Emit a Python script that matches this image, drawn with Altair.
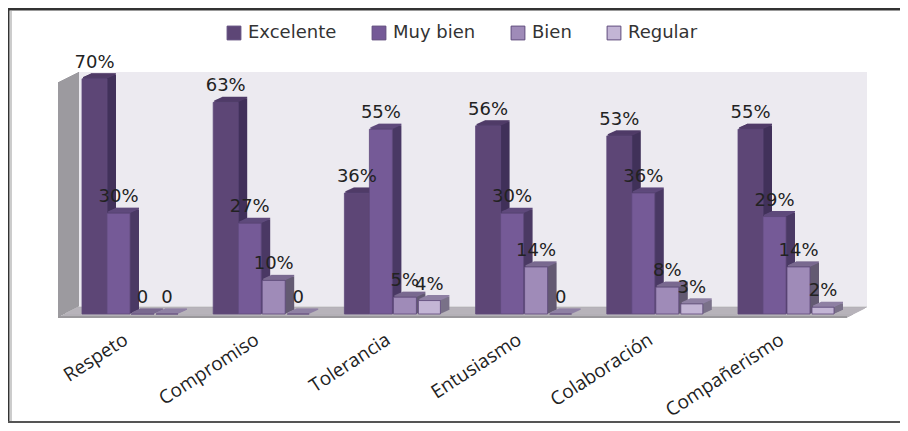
import altair as alt
import pandas as pd

categories = ["Respeto", "Compromiso", "Tolerancia", "Entusiasmo", "Colaboración", "Compañerismo"]
series = ["Excelente", "Muy bien", "Bien", "Regular"]
excelente = [70, 63, 36, 56, 53, 55]
muy_bien = [30, 27, 55, 30, 36, 29]
bien = [0, 10, 5, 14, 8, 14]
regular = [0, 0, 4, 0, 3, 2]
front_colors = ["#5D4676", "#755A97", "#9F8BB8", "#C3B5D5"]
top_colors = ["#503C68", "#5F4A7C", "#7A6A90", "#8F80A4"]
side_colors = ["#41315A", "#4A3964", "#635A72", "#7A7189"]

STEP = 131.2
edges = [(0, 25), (25, 48), (49, 72), (74, 96)]

rows = []
for si, (s, vals) in enumerate(zip(series, [excelente, muy_bien, bien, regular])):
    for ci, (c, v) in enumerate(zip(categories, vals)):
        rows.append({"cat": c, "serie": s, "v": v, "v2": v + 0.45, "zero": 0,
                     "u0": ci + edges[si][0] / STEP, "u1": ci + edges[si][1] / STEP,
                     "um": ci + (edges[si][0] + edges[si][1]) / 2 / STEP,
                     "lab": f"{v}%" if v else "0"})
df = pd.DataFrame(rows)
cats = pd.DataFrame({"cat": categories, "uc": [i + 44 / STEP for i in range(6)]})

W, H = 892, 306
x_scale = alt.Scale(domain=[-74 / STEP, (W - 74) / STEP], nice=False, zero=False)
y_scale = alt.Scale(domain=[0, 91.07], nice=False)
x0 = alt.X("u0:Q", scale=x_scale, title=None, axis=None)
x1 = alt.X2("u1:Q")
xm = alt.X("um:Q", scale=x_scale, title=None, axis=None)
y_top = alt.Y("v:Q", scale=y_scale, title=None, axis=None)

layers = []
one = df.head(1)

def band(color, xa, xb, ya, yb):
    layers.append(alt.Chart(one).mark_rect(color=color).encode(
        x=alt.value(xa), x2=alt.value(xb), y=alt.value(ya), y2=alt.value(yb)))

# frame
band("#333333", 0, W, 0, 2)
band("#999999", 0, W, 2, 3)
band("#333333", 0, 1.5, 0, 414)
band("#999999", 2.5, 3.5, 2, 413)
band("#555555", 0, W, 413, 415)

# back wall, side wall and floor, built as sheared slices
band("#ECEAF0", 71, 859, 64, 298)
for k in range(0, 21):
    band("#B4B1B7", 50 + k, 839 + k, 309 - k * 0.52, 310 - k * 0.52)
    band("#9C9A9F", 50 + k, 51 + k, 74 - k * 0.5, 309 - k * 0.52)
band("#9A989C", 50, 839, 308, 310)

# bars: side and top slices, then front, series from left to right
for s, fc, tc, sc in zip(series, front_colors, top_colors, side_colors):
    d = df[df.serie == s]
    for i in range(9, 0, -1):
        layers.append(alt.Chart(d).mark_rect(color=sc, xOffset=i, x2Offset=i, yOffset=-i * 0.45,
                                             y2Offset=-i * 0.45).encode(
            x=x0, x2=x1, y=y_top, y2="zero:Q"))
    for i in range(9, 0, -1):
        layers.append(alt.Chart(d).mark_rect(color=tc, xOffset=i, x2Offset=i, yOffset=-i * 0.45,
                                             y2Offset=-i * 0.45).encode(
            x=x0, x2=x1, y=y_top, y2="v2:Q"))
    layers.append(alt.Chart(d).mark_rect(color=fc, stroke="#5F4A7C", strokeWidth=1, strokeOpacity=0.8).encode(
        x=x0, x2=x1, y=y_top, y2="zero:Q",
        color=alt.Color("serie:N", sort=series, title=None,
                        scale=alt.Scale(domain=series, range=front_colors),
                        legend=alt.Legend(orient="none", legendX=217, legendY=16, direction="horizontal",
                                          symbolType="square", symbolSize=190, symbolStrokeColor="#5F4A7C",
                                          symbolStrokeWidth=1, labelFont="DejaVu Sans", labelFontSize=18,
                                          labelColor="#333333", columnPadding=33, labelOffset=5,
                                          columns=4))))

layers.append(alt.Chart(df).mark_text(font="DejaVu Sans", fontSize=18, color="#222222", dy=-16,
                                      baseline="middle").encode(
    x=xm, y=y_top, text="lab:N"))

layers.append(alt.Chart(cats).mark_text(font="Open Sans", fontSize=19, color="#222222", angle=327,
                                        align="right", baseline="middle").encode(
    x=alt.X("uc:Q", scale=x_scale, title=None, axis=None), y=alt.value(330), text="cat:N"))

chart = alt.layer(*layers).properties(
    width=W, height=H,
    padding={"left": 0, "top": 0, "right": 0, "bottom": 109},
    autosize=alt.AutoSizeParams(type="none"),
).configure_view(stroke=None)

chart.save("out.html", embed_options={"renderer": "svg", "actions": False})
